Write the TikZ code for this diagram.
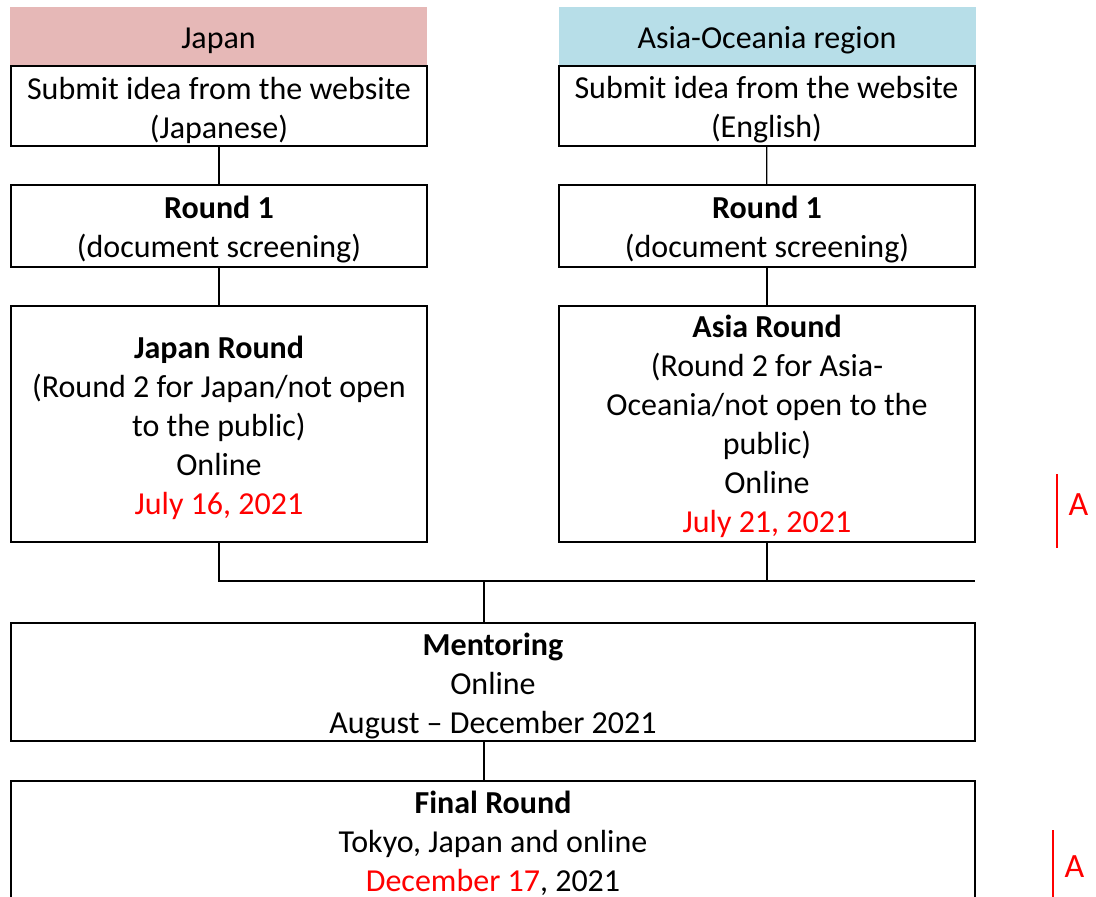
\documentclass[tikz,border=0pt]{standalone}
\usepackage{fontspec}
\setmainfont{Carlito}
\definecolor{jpink}{HTML}{E6B8B7}
\definecolor{asiablue}{HTML}{B7DEE8}
\usetikzlibrary{calc}

\begin{document}
\begin{tikzpicture}[x=0.5pt, y=-0.5pt, semithick, font=\fontsize{16}{19.5}\selectfont]
        \tikzstyle{head}=[minimum width=208.5pt, minimum height=29.5pt, inner sep=0pt]
        \tikzstyle{box}=[draw=black, line width=1pt, minimum width=208pt, inner sep=0pt]
        \tikzstyle{wide}=[box, minimum width=482pt]
        \tikzstyle{txt}=[align=center, inner sep=0pt, yshift=-2pt]
        \tikzstyle{revbar}=[draw=red, line width=1pt]
        \tikzstyle{revtext}=[text=red, font=\fontsize{17}{20}\selectfont]

        \useasboundingbox (0,0) rectangle (1096,897);

        % column heads
        \node[head, fill=jpink,    label={[txt]center:Japan}]               (J) at (218.5,36.5) {};
        \node[head, fill=asiablue, label={[txt]center:Asia-Oceania region}] (A) at (767,36.5)   {};

        % entry
        \node[box, minimum height=40pt, label={[txt]center:{Submit idea from the website\\(Japanese)}}] (J0) at (219,106) {};
        \node[box, minimum height=40pt, label={[txt]center:{Submit idea from the website\\(English)}}]  (A0) at (766.5,106) {};

        % round 1
        \node[box, minimum height=41pt, label={[txt]center:{\textbf{Round 1}\\(document screening)}}] (J1) at (219,226) {};
        \node[box, minimum height=41pt, label={[txt]center:{\textbf{Round 1}\\(document screening)}}] (A1) at (767,226) {};

        % round 2
        \node[box, minimum height=118pt, label={[txt]center:{\textbf{Japan Round}\\(Round 2 for Japan/not open\\to the public)\\Online\\\textcolor{red}{July 16, 2021}}}] (J2) at (219,424) {};
        \node[box, minimum height=118pt, label={[txt, yshift=1pt]center:{\textbf{Asia Round}\\(Round 2 for Asia-\\Oceania/not open to the\\public)\\Online\\\textcolor{red}{July 21, 2021}}}] (A2) at (767,424) {};

        \node[wide, minimum height=59pt, label={[txt]center:{\textbf{Mentoring}\\Online\\August -- December 2021}}] (M) at (493,682) {};
        \node[wide, minimum height=62pt, align=center] (F) at (493,843)
            {\textbf{Final Round}\\Tokyo, Japan and online\\\textcolor{red}{December 17}, 2021};

        \coordinate (join)  at (975,581);
        \coordinate (split) at (484,581);

        \path
            (J0) edge (J1)
            (A0) edge (A1)
            (J1) edge (J2)
            (A1) edge (A2)
        ;
        \draw[line width=0.8pt] (J2.south) |- (join);
        \draw (A2.south) -- (A2.south |- join);
        \draw (split) -- (split |- M.north);
        \draw (split |- M.south) -- (split |- F.north);

        % revision marks
        \coordinate (r1) at (1057,474);
        \coordinate (r2) at (1053,830);
        \draw[revbar] (r1) -- ++(0,74) node[revtext, midway, right=2pt, yshift=3pt] (R1) {A};
        \draw[revbar] (r2) -- ++(0,70) node[revtext, midway, right=2pt, yshift=-1pt] (R2) {A};
    \end{tikzpicture}
\end{document}
